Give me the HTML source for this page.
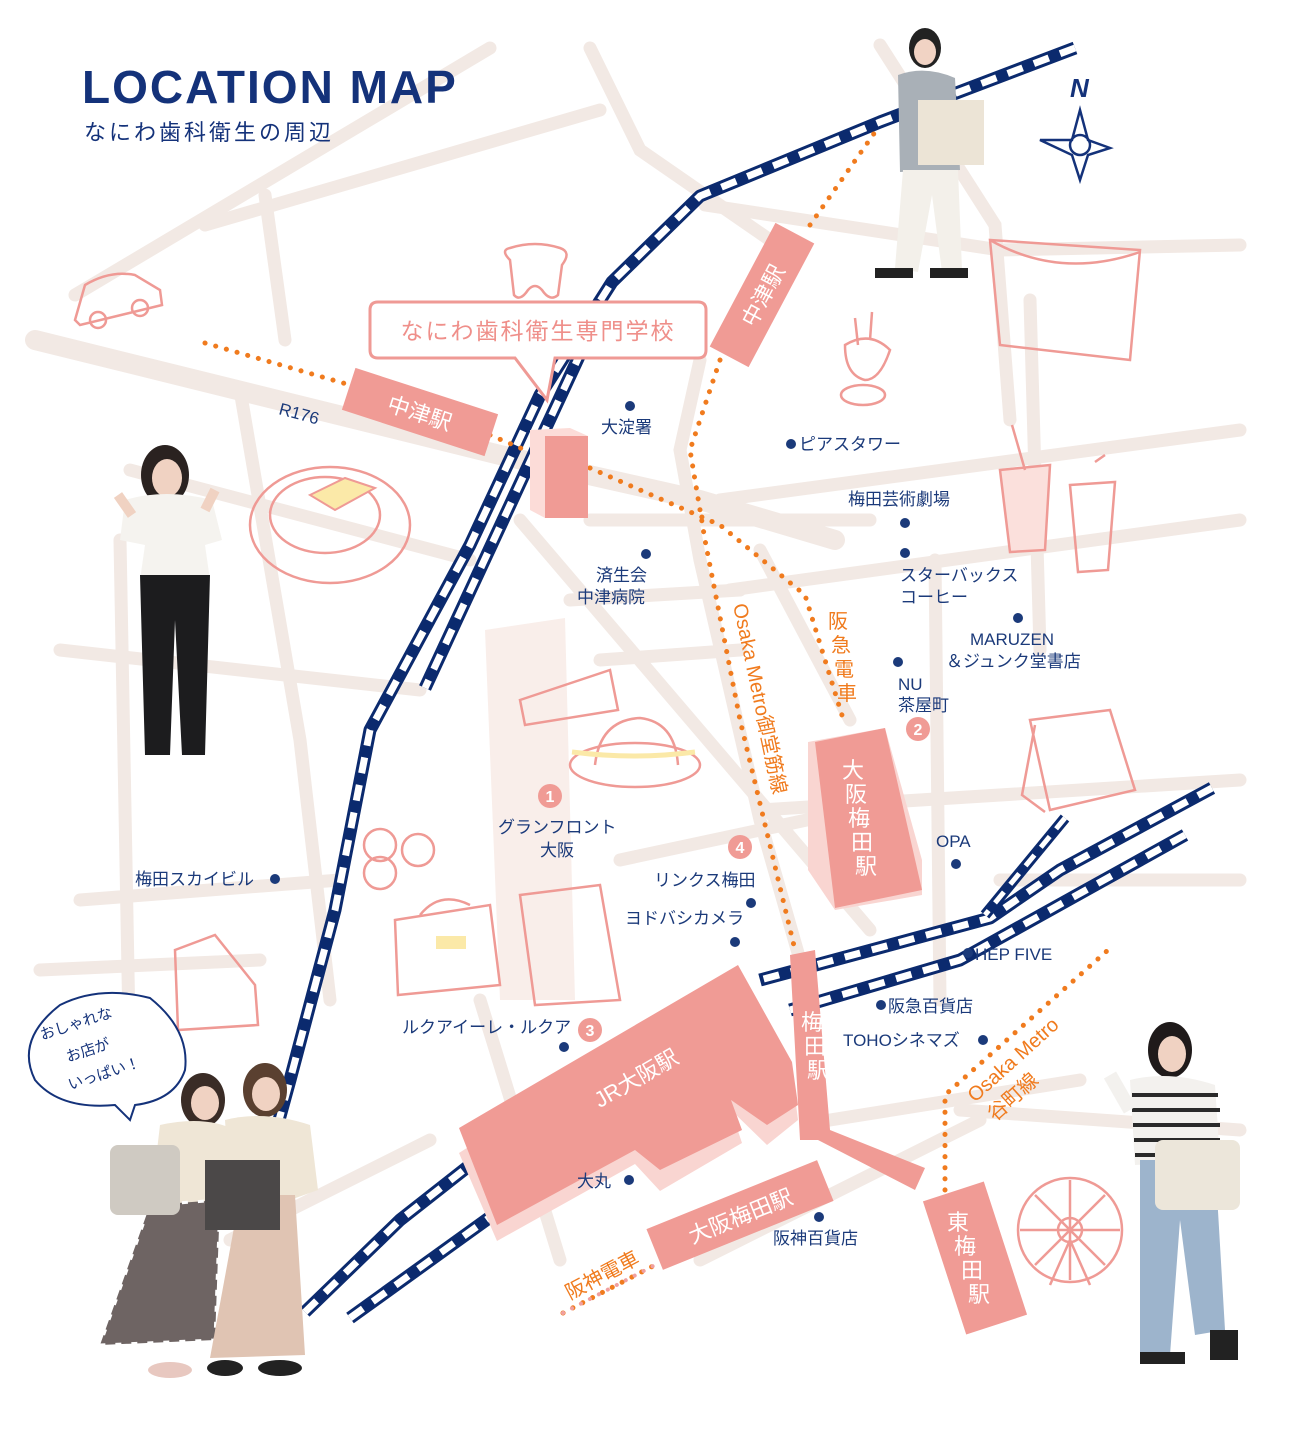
<!DOCTYPE html>
<html><head><meta charset="utf-8"><style>
html,body{margin:0;padding:0;background:#fff}
svg{display:block}
text{font-family:"Liberation Sans","Noto Sans CJK JP",sans-serif}
</style></head><body>
<svg width="1296" height="1432" viewBox="0 0 1296 1432" xmlns="http://www.w3.org/2000/svg">
<rect width="1296" height="1432" fill="#fff"/>
<!-- light pink block -->
<polygon points="485,630 565,618 575,1000 500,1000" fill="#f9eeea"/>
<!-- roads -->
<g stroke="#f2e9e4" stroke-width="13" stroke-linecap="round" fill="none">
<path d="M35,340 L500,455 L700,500 L835,540" stroke-width="20"/>
<path d="M75,295 L490,48"/>
<path d="M205,225 L600,110"/>
<path d="M265,195 L285,340"/>
<path d="M590,48 L640,150 L770,240"/>
<path d="M880,45 L995,225 L1010,420"/>
<path d="M705,205 L1000,250 L1240,245"/>
<path d="M720,500 L1240,430"/>
<path d="M730,590 L1240,520"/>
<path d="M590,520 L870,520"/>
<path d="M935,560 L940,1000"/>
<path d="M700,360 L680,450 L700,560 L760,820 L800,960"/>
<path d="M760,550 L850,720"/>
<path d="M520,520 L870,930"/>
<path d="M570,600 L740,590"/>
<path d="M600,660 L740,650"/>
<path d="M620,860 L900,800"/>
<path d="M760,810 L1240,780"/>
<path d="M240,390 L300,740 L330,1000"/>
<path d="M130,470 L470,560"/>
<path d="M60,650 L420,690"/>
<path d="M80,900 L340,880"/>
<path d="M40,970 L260,960"/>
<path d="M480,1000 L560,1260"/>
<path d="M960,1110 L1240,1130"/>
<path d="M830,1120 L1080,1080"/>
<path d="M700,1260 L980,1120"/>
<path d="M230,1240 L430,1140"/>
<path d="M1000,880 L1240,880"/>
<path d="M1030,300 L1040,650"/>
<path d="M120,540 L130,1080"/>
</g>
<!-- rails -->
<g fill="none" stroke-linejoin="round">
<g id="r1"><path d="M1075,48 L880,122 L700,196 L612,282 L540,395 L470,545 L370,730 L335,910 L290,1080 L268,1160" stroke="#0b2a6e" stroke-width="13"/>
<path d="M1075,48 L880,122 L700,196 L612,282 L540,395 L470,545 L370,730 L335,910 L290,1080 L268,1160" stroke="#fff" stroke-width="7" stroke-dasharray="16 12"/></g>
<path d="M582,350 L425,688" stroke="#0b2a6e" stroke-width="13"/>
<path d="M582,350 L425,688" stroke="#fff" stroke-width="7" stroke-dasharray="16 12"/>
<path d="M1212,788 L1060,870 L990,918 L760,980" stroke="#0b2a6e" stroke-width="13"/>
<path d="M1212,788 L1060,870 L990,918 L760,980" stroke="#fff" stroke-width="7" stroke-dasharray="16 12"/>
<path d="M1065,818 L985,915" stroke="#0b2a6e" stroke-width="11"/>
<path d="M1065,818 L985,915" stroke="#fff" stroke-width="5" stroke-dasharray="14 10"/>
<path d="M1185,835 L960,960 L790,1010" stroke="#0b2a6e" stroke-width="13"/>
<path d="M1185,835 L960,960 L790,1010" stroke="#fff" stroke-width="7" stroke-dasharray="16 12"/>
<path d="M305,1312 L400,1220 L470,1165" stroke="#0b2a6e" stroke-width="13"/>
<path d="M305,1312 L400,1220 L470,1165" stroke="#fff" stroke-width="7" stroke-dasharray="16 12"/>
<path d="M350,1318 L500,1210" stroke="#0b2a6e" stroke-width="13"/>
<path d="M350,1318 L500,1210" stroke="#fff" stroke-width="7" stroke-dasharray="16 12"/>
</g>
<!-- orange dotted lines -->
<g fill="none" stroke="#f07b1e" stroke-width="5" stroke-linecap="round" stroke-dasharray="0.1 11">
<path d="M205,343 L350,385"/>
<path d="M490,435 L525,450"/>
<path d="M590,468 L720,525 L805,595 L845,725"/>
<path d="M720,360 L690,450 L705,540 L740,720 L795,950"/>
<path d="M810,225 L880,125"/>
<path d="M945,1190 L945,1095 L1108,950"/>
<path d="M563,1313 L655,1265"/>
</g>
<path d="M563,1313 L655,1265" fill="none" stroke="#f0a0a0" stroke-width="4" stroke-linecap="round" stroke-dasharray="0.1 10"/>
<!-- stations -->
<g fill="#f09b95">
<g transform="translate(420,412) rotate(18)"><rect x="-75" y="-22" width="150" height="44"/><text x="0" y="9" font-size="22" fill="#fff" text-anchor="middle">中津駅</text></g>
<g transform="translate(762,295) rotate(-62)"><rect x="-70" y="-22" width="140" height="44"/><text x="0" y="9" font-size="22" fill="#fff" text-anchor="middle">中津駅</text></g>
<polygon points="530,430 570,428 588,436 588,518 545,518 530,510" fill="#fcdcd8"/>
<rect x="545" y="436" width="43" height="82"/>
<polygon points="808,742 885,728 922,860 922,895 835,910 808,870" fill="#f9d5d1"/>
<polygon points="815,742 885,728 922,890 835,908"/>
<polygon points="459,1153 738,975 792,1072 798,1120 767,1145 731,1110 742,1143 660,1191 635,1164 497,1241" fill="#f9d5d1"/>
<polygon points="459,1128 738,965 792,1062 798,1105 767,1125 731,1100 742,1130 660,1170 635,1150 497,1225"/>
<polygon points="790,955 815,950 830,1130 925,1168 915,1190 818,1140 800,1140"/>
<g transform="translate(975,1258) rotate(-18)"><rect x="-32" y="-70" width="64" height="140"/></g>
<g transform="translate(740,1215) rotate(-22)"><rect x="-92" y="-22" width="184" height="44"/><text x="0" y="9" font-size="22" fill="#fff" text-anchor="middle">大阪梅田駅</text></g>
</g>
<g fill="#fff" font-size="22" text-anchor="middle">
<text x="853" y="778">大</text><text x="856" y="802">阪</text><text x="859" y="826">梅</text><text x="862" y="850">田</text><text x="866" y="874">駅</text>
<text x="812" y="1030">梅</text><text x="815" y="1054">田</text><text x="818" y="1078">駅</text>
<text transform="translate(640,1085) rotate(-30)" font-size="22">JR大阪駅</text>
<text x="958" y="1230">東</text><text x="965" y="1254">梅</text><text x="972" y="1278">田</text><text x="979" y="1302">駅</text>
</g>
<!-- orange labels -->
<g fill="#f07b1e" font-size="20">
<text transform="translate(733,605) rotate(78)">Osaka Metro御堂筋線</text>
<text x="838" y="628" text-anchor="middle">阪</text><text x="841" y="652" text-anchor="middle">急</text><text x="844" y="676" text-anchor="middle">電</text><text x="847" y="700" text-anchor="middle">車</text>
<text transform="translate(975,1103) rotate(-42)">Osaka Metro</text>
<text transform="translate(995,1122) rotate(-42)">谷町線</text>
<text transform="translate(570,1300) rotate(-28)">阪神電車</text>
</g>
<!-- school label -->
<path d="M378,302 H698 Q706,302 706,310 V350 Q706,358 698,358 H555 L547,400 L515,358 H378 Q370,358 370,350 V310 Q370,302 378,302Z" fill="#fff" stroke="#ef9a95" stroke-width="3"/>
<text x="538" y="339" font-size="23" fill="#ef8f8a" text-anchor="middle" letter-spacing="2">なにわ歯科衛生専門学校</text>
<path d="M510,260 Q500,250 510,248 Q535,240 560,248 Q572,252 562,265 L558,295 Q550,302 542,290 Q535,282 528,290 Q520,302 514,295Z" fill="#fff" stroke="#ef9a95" stroke-width="2.5"/>
<!-- navy labels -->
<g fill="#1b3a7a" font-size="17">
<text x="278" y="414" transform="rotate(15 278 414)">R176</text>
<circle cx="630" cy="406" r="5"/><text x="601" y="433">大淀署</text>
<circle cx="791" cy="444" r="5"/><text x="799" y="450">ピアスタワー</text>
<text x="848" y="505">梅田芸術劇場</text><circle cx="905" cy="523" r="5"/>
<circle cx="905" cy="553" r="5"/><text x="900" y="581">スターバックス</text><text x="900" y="603">コーヒー</text>
<circle cx="646" cy="554" r="5"/><text x="596" y="581">済生会</text><text x="577" y="603">中津病院</text>
<circle cx="1018" cy="618" r="5"/><text x="970" y="645">MARUZEN</text><text x="946" y="667">＆ジュンク堂書店</text>
<circle cx="898" cy="662" r="5"/><text x="898" y="690">NU</text><text x="898" y="711">茶屋町</text>
<text x="498" y="833">グランフロント</text><text x="540" y="856">大阪</text>
<text x="936" y="847">OPA</text><circle cx="956" cy="864" r="5"/>
<text x="135" y="885">梅田スカイビル</text><circle cx="275" cy="879" r="5"/>
<text x="654" y="886">リンクス梅田</text><circle cx="751" cy="903" r="5"/>
<text x="625" y="924">ヨドバシカメラ</text><circle cx="735" cy="942" r="5"/>
<circle cx="968" cy="953" r="5"/><text x="975" y="960">HEP FIVE</text>
<circle cx="881" cy="1005" r="5"/><text x="888" y="1012">阪急百貨店</text>
<text x="843" y="1046">TOHOシネマズ</text><circle cx="983" cy="1040" r="5"/>
<text x="402" y="1033">ルクアイーレ・ルクア</text><circle cx="564" cy="1047" r="5"/>
<text x="577" y="1187">大丸</text><circle cx="629" cy="1180" r="5"/>
<circle cx="819" cy="1217" r="5"/><text x="773" y="1244">阪神百貨店</text>
</g>
<!-- number badges -->
<g fill="#f09b95"><circle cx="550" cy="796" r="12"/><circle cx="918" cy="729" r="12"/><circle cx="590" cy="1030" r="12"/><circle cx="740" cy="847" r="12"/></g>
<g fill="#fff" font-size="16" font-weight="bold" text-anchor="middle"><text x="550" y="802">1</text><text x="918" y="735">2</text><text x="590" y="1036">3</text><text x="740" y="853">4</text></g>
<!-- title -->
<text x="82" y="103" font-size="46" font-weight="bold" fill="#14327a" letter-spacing="2">LOCATION MAP</text>
<text x="84" y="140" font-size="22" fill="#14327a" letter-spacing="3">なにわ歯科衛生の周辺</text>
<!-- compass -->
<g fill="none" stroke="#14327a" stroke-width="2.5">
<polygon points="1080,110 1088,140 1110,148 1088,155 1080,180 1072,155 1040,140 1072,140" fill="#fff"/>
<circle cx="1080" cy="145" r="10"/>
</g>
<text x="1070" y="97" font-size="26" font-weight="bold" fill="#14327a" font-style="italic">N</text>
<!-- sketch illustrations (pink outlines) -->
<g fill="none" stroke="#ef9a95" stroke-width="2.5">
<path d="M75,320 L85,285 Q110,270 135,275 L160,290 L162,305 L80,325Z"/><circle cx="98" cy="320" r="8"/><circle cx="140" cy="308" r="8"/>
<path d="M990,240 L1140,250 L1130,360 L1000,345Z"/><path d="M990,240 Q1060,280 1140,252"/>
<path d="M845,345 Q870,330 890,350 Q880,380 865,380 Q845,375 845,345Z"/><path d="M855,318 L858,345 M872,312 L870,340"/><ellipse cx="863" cy="395" rx="22" ry="10"/>
<path d="M1000,470 L1050,465 L1045,550 L1010,552Z" fill="#fbe0dc"/><path d="M1070,485 L1115,482 L1108,570 L1078,572Z"/><path d="M1012,425 L1025,470 M1095,462 L1105,455"/>
<ellipse cx="330" cy="525" rx="80" ry="58"/><ellipse cx="325" cy="515" rx="55" ry="38"/>
<path d="M520,700 L610,670 L618,710 L525,725Z"/>
<ellipse cx="635" cy="765" rx="65" ry="22"/><path d="M595,765 Q600,720 640,718 Q675,722 678,765"/>
<circle cx="380" cy="845" r="16"/><circle cx="418" cy="850" r="16"/><circle cx="380" cy="873" r="16"/>
<path d="M395,920 L490,905 L500,985 L398,995Z"/><path d="M420,915 Q440,890 470,905"/>
<path d="M520,895 L600,885 L620,1000 L535,1005 Z"/>
<path d="M1030,720 L1110,710 L1135,790 L1050,810Z"/><path d="M1035,725 L1022,795 L1045,812"/>
<path d="M175,950 L215,935 L255,985 L258,1025 L178,1030Z"/>
<circle cx="1070" cy="1230" r="52"/><circle cx="1070" cy="1230" r="12"/><path d="M1070,1180 V1280 M1020,1230 H1120 M1035,1195 L1105,1265 M1105,1195 L1035,1265 M1050,1285 L1070,1240 L1090,1285"/>
</g>
<path d="M310,495 L345,478 L375,488 L335,510Z" fill="#fbe9a8" stroke="#ef9a95" stroke-width="2"/>
<rect x="436" y="936" width="30" height="13" fill="#fbe9a8"/>
<path d="M572,752 Q635,760 695,752" stroke="#fbe9a8" stroke-width="5" fill="none"/>
<!-- speech bubble -->
<path d="M60,1005 Q100,985 150,998 Q190,1030 185,1070 Q175,1100 135,1105 L130,1120 L115,1105 Q60,1110 35,1080 Q15,1040 60,1005Z" fill="#fff" stroke="#14327a" stroke-width="2"/>
<g fill="#14327a" font-size="15"><text x="42" y="1040" transform="rotate(-18 42 1040)">おしゃれな</text><text x="68" y="1062" transform="rotate(-18 68 1062)">お店が</text><text x="70" y="1090" transform="rotate(-18 70 1090)">いっぱい！</text></g>
<!-- people (approximate) -->
<g>
<!-- top right -->
<ellipse cx="925" cy="48" rx="16" ry="20" fill="#222"/><ellipse cx="925" cy="52" rx="11" ry="13" fill="#f1d3c4"/>
<path d="M898,75 Q925,65 955,78 L960,170 L900,172Z" fill="#a9b0b7"/>
<path d="M903,170 L958,170 L962,270 L942,272 L932,195 L918,272 L895,268Z" fill="#f3f0ea"/>
<rect x="918" y="100" width="66" height="65" fill="#ece4d6"/>
<rect x="875" y="268" width="38" height="10" fill="#222"/><rect x="930" y="268" width="38" height="10" fill="#222"/>
<!-- left woman -->
<ellipse cx="165" cy="475" rx="24" ry="30" fill="#2a2220"/><ellipse cx="167" cy="478" rx="15" ry="19" fill="#f0d2c2"/>
<path d="M125,500 Q165,488 212,500 L222,540 L205,545 L210,580 L140,580 L145,545 L120,540Z" fill="#f5f3ef"/>
<path d="M118,495 L132,515 M215,490 L205,510" stroke="#f0d2c2" stroke-width="10"/>
<path d="M140,575 L210,575 L205,755 L182,755 L175,620 L170,755 L145,755Z" fill="#1c1c1e"/>
<!-- bottom-left pair -->
<ellipse cx="203" cy="1100" rx="22" ry="27" fill="#3a2c26"/><ellipse cx="205" cy="1103" rx="14" ry="17" fill="#f0d2c2"/>
<path d="M160,1125 Q205,1115 235,1130 L230,1210 L150,1210Z" fill="#efe6d6"/>
<path d="M150,1205 L220,1200 L215,1340 L100,1345Z" fill="#6e6463"/>
<path d="M150,1205 L220,1200 L215,1340 L100,1345Z" fill="none" stroke="#fff" stroke-width="3" stroke-dasharray="6 10"/>
<rect x="110" y="1145" width="70" height="70" rx="8" fill="#cfcac2"/>
<ellipse cx="265" cy="1090" rx="22" ry="27" fill="#5a4030"/><ellipse cx="266" cy="1094" rx="14" ry="17" fill="#f0d2c2"/>
<path d="M225,1120 Q265,1110 310,1125 L318,1190 L290,1200 L230,1200Z" fill="#efe6d6"/>
<path d="M240,1195 L295,1195 L305,1355 L210,1358Z" fill="#e0c4b3"/>
<rect x="205" y="1160" width="75" height="70" fill="#4b4848"/>
<ellipse cx="170" cy="1370" rx="22" ry="8" fill="#e8c8c0"/><ellipse cx="280" cy="1368" rx="22" ry="8" fill="#222"/><ellipse cx="225" cy="1368" rx="18" ry="8" fill="#222"/>
<!-- right woman -->
<ellipse cx="1170" cy="1050" rx="22" ry="28" fill="#1f1a1a"/><ellipse cx="1172" cy="1054" rx="14" ry="18" fill="#f0d2c2"/>
<path d="M1130,1080 Q1170,1070 1215,1085 L1220,1160 L1135,1165Z" fill="#f3f1ee"/>
<g stroke="#2a2a2a" stroke-width="4"><path d="M1132,1095 H1218 M1132,1110 H1220 M1133,1125 H1220 M1134,1140 H1220 M1135,1155 H1220"/></g>
<path d="M1110,1075 L1130,1110" stroke="#f3f1ee" stroke-width="14"/>
<path d="M1140,1160 L1215,1160 L1225,1330 L1195,1335 L1180,1220 L1170,1355 L1140,1355Z" fill="#9db4cc"/>
<rect x="1155" y="1140" width="85" height="70" rx="8" fill="#ece6da"/>
<rect x="1140" y="1352" width="45" height="12" fill="#222"/><rect x="1210" y="1330" width="28" height="30" fill="#222"/>
</g>
</svg>
</body></html>
